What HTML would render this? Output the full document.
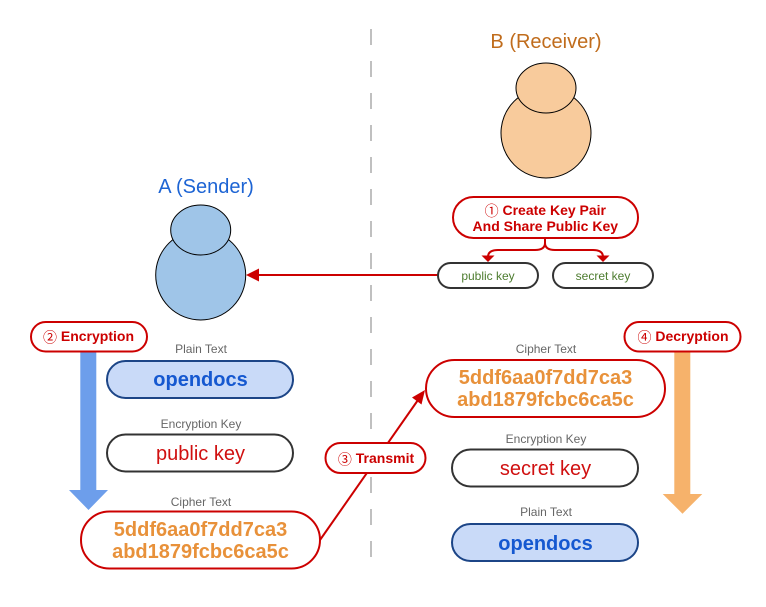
<!DOCTYPE html>
<html><head><meta charset="utf-8"><style>
html,body{margin:0;padding:0;background:#fff;width:766px;height:607px;overflow:hidden}
svg{display:block}
text{font-family:"Liberation Sans","Noto Sans CJK SC",sans-serif;text-anchor:middle}
.l{font-size:12px;fill:#666}
.r{font-size:12px;fill:#4d7c2f}
.b{font-size:14px;font-weight:bold;fill:#cc0000}
.n{font-weight:normal}
.c{font-size:20px;font-weight:bold;fill:#e8913a}
.o{font-size:20px;font-weight:bold;fill:#1558d0}
.k{font-size:20px;fill:#d01010}
</style></head><body>
<svg width="766" height="607" viewBox="0 0 766 607" xmlns="http://www.w3.org/2000/svg">
<line x1="371" y1="29" x2="371" y2="558" stroke="#c0c0c0" stroke-width="2" stroke-dasharray="16 16"/>

<text x="206" y="193" fill="#1d64d4" style="font-size:20px">A (Sender)</text>
<text x="546" y="48" fill="#c06c1c" style="font-size:20px">B (Receiver)</text>

<circle cx="200.7" cy="275" r="45" fill="#9fc5e8" stroke="#000"/>
<ellipse cx="200.7" cy="230" rx="30" ry="25" fill="#9fc5e8" stroke="#000"/>
<circle cx="546" cy="133" r="45" fill="#f8cb9c" stroke="#000"/>
<ellipse cx="546" cy="88" rx="30" ry="25" fill="#f8cb9c" stroke="#000"/>

<!-- fork -->
<path d="M545 238V243Q545 250 535 250H498Q488 250 488 257" fill="none" stroke="#cc0000" stroke-width="2"/>
<path d="M545 238V243Q545 250 555 250H593Q603 250 603 257" fill="none" stroke="#cc0000" stroke-width="2"/>
<polygon points="481.500,255.500 494.500,255.500 488,262" fill="#cc0000"/>
<polygon points="596.500,255.500 609.500,255.500 603,262" fill="#cc0000"/>

<!-- to A -->
<line x1="438" y1="275" x2="256" y2="275" stroke="#cc0000" stroke-width="2"/>
<polygon points="246,275 259,268.500 259,281.500" fill="#cc0000"/>

<!-- transmit -->
<line x1="320" y1="540" x2="418" y2="400" stroke="#cc0000" stroke-width="2"/>
<polygon points="425,390 421.500,404.500 412,397.500" fill="#cc0000"/>

<!-- thick arrows -->
<polygon points="80.300,351 96.300,351 96.300,490 108,490 88.500,510 69,490 80.300,490" fill="#6d9eeb"/>
<polygon points="674.300,351 690.300,351 690.300,494 702.300,494 682.500,513.700 662.700,494 674.300,494" fill="#f6b26b"/>

<g fill="#fff" stroke="#cc0000" stroke-width="2">
<rect x="453" y="197" width="185" height="41" rx="20.500"/>
<rect x="31" y="322" width="116" height="29.500" rx="14.700"/>
<rect x="81" y="511.500" width="239" height="57" rx="28.500"/>
<rect x="426" y="360" width="239" height="57" rx="28.500"/>
<rect x="325.500" y="443" width="100" height="30" rx="15"/>
<rect x="624.500" y="322" width="116" height="29.500" rx="14.700"/>
</g>
<g fill="#fff" stroke="#333" stroke-width="2">
<rect x="438" y="263" width="100" height="25" rx="12.500"/>
<rect x="553" y="263" width="100" height="25" rx="12.500"/>
<rect x="107" y="434.500" width="186" height="37" rx="18.500"/>
<rect x="452" y="449.500" width="186" height="37" rx="18.500"/>
</g>
<g fill="#c9daf8" stroke="#1c4587" stroke-width="2">
<rect x="107" y="361" width="186" height="37" rx="18.500"/>
<rect x="452" y="524" width="186" height="37" rx="18.500"/>
</g>

<text class="b" x="545.300" y="215"><tspan class="n" dy="1">①</tspan><tspan dy="-1"> Create Key Pair</tspan></text>
<text class="b" x="545.300" y="231">And Share Public Key</text>
<text class="r" x="488" y="280">public key</text>
<text class="r" x="603" y="280">secret key</text>

<text class="b" x="88.500" y="341"><tspan class="n" dy="1.500">②</tspan><tspan dy="-1.500"> Encryption</tspan></text>
<text class="b" x="376" y="463"><tspan class="n" dy="1.500">③</tspan><tspan dy="-1.500"> Transmit</tspan></text>
<text class="b" x="683" y="341"><tspan class="n" dy="1.500">④</tspan><tspan dy="-1.500"> Decryption</tspan></text>

<text class="l" x="201" y="353">Plain Text</text>
<text class="o" x="200.500" y="386">opendocs</text>
<text class="l" x="201" y="428">Encryption Key</text>
<text class="k" x="200.500" y="460">public key</text>
<text class="l" x="201" y="506">Cipher Text</text>
<text class="c" x="200.500" y="536">5ddf6aa0f7dd7ca3</text>
<text class="c" x="200.500" y="558">abd1879fcbc6ca5c</text>

<text class="l" x="546" y="353">Cipher Text</text>
<text class="c" x="545.500" y="384">5ddf6aa0f7dd7ca3</text>
<text class="c" x="545.500" y="406">abd1879fcbc6ca5c</text>
<text class="l" x="546" y="443">Encryption Key</text>
<text class="k" x="545.500" y="475">secret key</text>
<text class="l" x="546" y="516">Plain Text</text>
<text class="o" x="545.500" y="550">opendocs</text>
</svg>
</body></html>
